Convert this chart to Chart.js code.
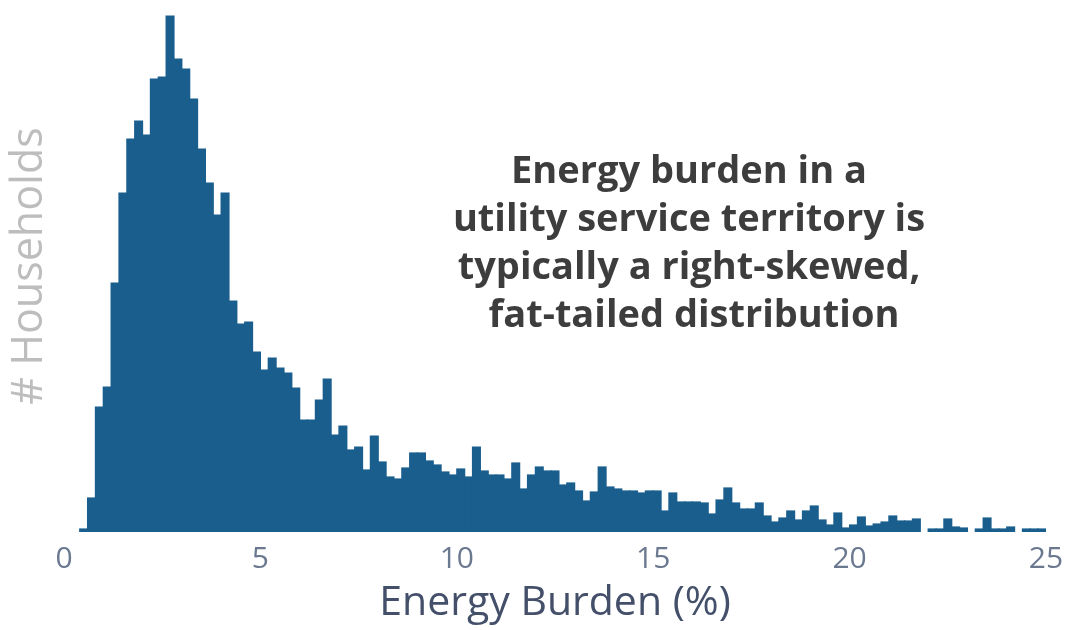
<!DOCTYPE html>
<html>
<head>
<meta charset="utf-8">
<script src="https://cdn.jsdelivr.net/npm/chart.js@4.4.0/dist/chart.umd.min.js"></script>
<style>
html,body{margin:0;padding:0;background:#fff;}
#wrap{width:1070px;height:630px;}
</style>
</head>
<body>
<div id="wrap"><canvas id="chart" width="1070" height="630"></canvas></div>
<script>
// histogram bins: 0.2 % wide, starting at 0
const binWidth=0.2;
const households=[
    0,0,3,34,125,145,249,339,393,411,
    397,453,455,516,473,463,433,383,349,317,
    339,231,208,210,180,162,174,164,159,144,
    112,112,132,153,97,106,82,85,62,96,
    70,55,53,64,79,79,71,67,60,57,
    63,55,85,61,57,57,53,69,43,57,
    65,61,61,47,49,41,31,40,65,45,
    43,41,41,39,41,41,21,39,30,30,
    30,29,18,32,44,29,23,23,29,16,
    10,14,21,12,21,26,12,7,19,4,
    7,15,6,8,10,16,11,11,13,0,
    3,3,13,5,4,0,3,14,3,3,
    5,0,3,3,3
];
const xTicks=[0,5,10,15,20,25];
const noteLines=['Energy burden in a','utility service territory is','typically a right-skewed,',' fat-tailed distribution'];

const barColor='#1a5e8e';

Chart.defaults.font.family='"Open Sans", sans-serif';

const notePlugin={
    id:'note',
    afterDraw(chart){
        const ctx=chart.ctx;
        ctx.save();
        ctx.font='bold 38px "Open Sans", sans-serif';
        ctx.fillStyle='#3d3d3d';
        ctx.textAlign='center';
        ctx.textBaseline='alphabetic';
        noteLines.forEach((t,i)=>{
            ctx.fillText(t,689,183+i*48);
        });
        ctx.restore();
    }
};

function draw(){
    const points=households.map((v,i)=>({x:(i+0.5)*binWidth,y:v}));
    new Chart(document.getElementById('chart'),{
        type:'bar',
        data:{
            datasets:[{
                data:points,
                backgroundColor:barColor,
                borderWidth:0,
                barPercentage:1,
                categoryPercentage:1,
                // close the hairline seams between neighbouring bins, skip empty bins
                inflateAmount:(c)=>(c.raw&&c.raw.y>0)?0.6:0
            }]
        },
        options:{
            responsive:false,
            animation:false,
            devicePixelRatio:1,
            layout:{padding:{left:0,right:24,top:0,bottom:0}},
            plugins:{legend:{display:false},tooltip:{enabled:false}},
            scales:{
                x:{
                    type:'linear',
                    min:0,max:25,
                    offset:false,
                    grid:{display:false},
                    border:{display:false},
                    afterBuildTicks(s){ s.ticks=xTicks.map(v=>({value:v})); },
                    afterFit(s){ s.height=98; },
                    ticks:{color:'#6a7890',font:{size:30},padding:1,maxRotation:0},
                    title:{display:true,text:'Energy Burden (%)',color:'#44506a',font:{size:41},padding:{top:0,bottom:2}}
                },
                y:{
                    min:0,max:532,
                    grid:{display:false},
                    border:{display:false},
                    ticks:{display:false},
                    afterFit(s){ s.width=64; },
                    title:{display:true,text:'# Households',color:'#bdbdbd',font:{size:43},padding:{top:4,bottom:0}}
                }
            }
        },
        plugins:[notePlugin]
    });
}
if(document.fonts&&document.fonts.load){
    Promise.all([
        document.fonts.load('30px "Open Sans"'),
        document.fonts.load('bold 38px "Open Sans"')
    ]).then(draw,draw);
}else{
    draw();
}
</script>
</body>
</html>
